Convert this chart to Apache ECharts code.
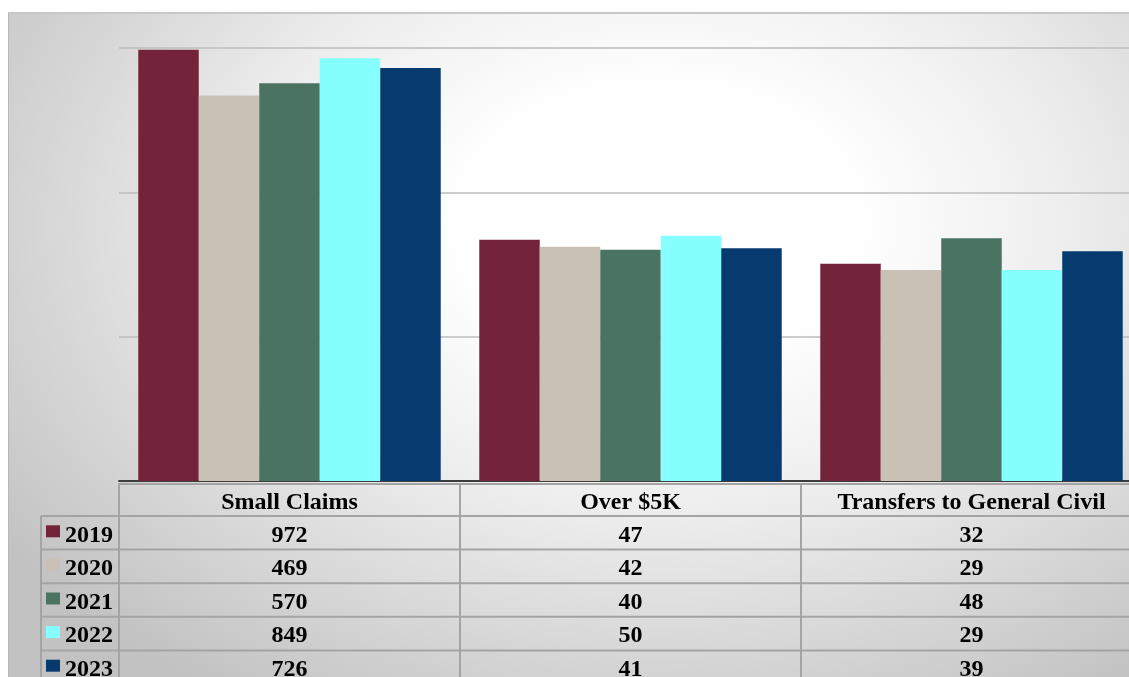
<!DOCTYPE html>
<html>
<head>
<meta charset="utf-8">
<script src="https://cdn.jsdelivr.net/npm/echarts@6/dist/echarts.min.js"></script>
<style>
  html, body { margin: 0; padding: 0; background: #ffffff; overflow: hidden; width: 1129px; height: 677px; }
  #panel {
    position: absolute; left: 8px; top: 12px; width: 1121px; height: 665px;
    border-left: 1px solid #b8b8b8; border-top: 2px solid #c8c8c8; box-sizing: border-box;
    background: radial-gradient(ellipse 800px 560px at 650px 210px, #ffffff 0%, #ffffff 24%, #ededed 52%, #c2c2c2 100%);
  }
  #chart { position: absolute; left: 0; top: 0; width: 1160px; height: 677px; }
</style>
</head>
<body>
<div id="panel"></div>
<div id="chart"></div>
<script>
const categories = ['Small Claims', 'Over $5K', 'Transfers to General Civil'];
const years = ['2019', '2020', '2021', '2022', '2023'];
const v2019 = [972, 47, 32];
const v2020 = [469, 42, 29];
const v2021 = [570, 40, 48];
const v2022 = [849, 50, 29];
const v2023 = [726, 41, 39];
const seriesValues = [v2019, v2020, v2021, v2022, v2023];
const colors = ['#73243A', '#C9C0B6', '#4A7362', '#86FFFF', '#073A6E'];

const chart = echarts.init(document.getElementById('chart'), null, { renderer: 'canvas' });

const GRID_LEFT = 119, GRID_TOP = 48, GRID_W = 1023, GRID_H = 433;

chart.setOption({
  backgroundColor: 'transparent',
  animation: false,
  grid: { left: GRID_LEFT, top: GRID_TOP, width: GRID_W, height: GRID_H, containLabel: false },
  xAxis: {
    type: 'category', data: categories,
    axisLabel: { show: false }, axisTick: { show: false },
    axisLine: { show: true, lineStyle: { color: '#3c3c3c', width: 2 } },
    splitLine: { show: false }
  },
  yAxis: {
    type: 'log', logBase: 10, min: 1, max: 1000,
    axisLabel: { show: false }, axisTick: { show: false }, axisLine: { show: false },
    splitLine: { show: true, lineStyle: { color: '#bdbdbd', width: 1.5 } }
  },
  series: years.map((y, i) => ({
    name: y, type: 'bar', data: seriesValues[i],
    barGap: '0%', barCategoryGap: '11.3%',
    itemStyle: { color: colors[i] }
  }))
});

// Build data table beneath plot using the axis' own pixel positions
const centers = categories.map(c => chart.convertToPixel({ xAxisIndex: 0 }, c));
const step = centers.length > 1 ? centers[1] - centers[0] : GRID_W;
const bounds = [centers[0] - step / 2].concat(centers.map(c => c + step / 2));
const baseY = chart.convertToPixel({ yAxisIndex: 0 }, 1);
const headTop = baseY + 2;
const headBottom = 516;
const rowH = 33.6;
const keyLeft = 41;
const lineColor = '#a4a4a4';
const bottom = 700;
const FONT = '"Liberation Serif", "Times New Roman", serif';

const g = [];
function line(x1, y1, x2, y2) {
  g.push({ type: 'line', shape: { x1, y1, x2, y2 }, style: { stroke: lineColor, lineWidth: 2 }, silent: true });
}
bounds.forEach(x => line(x, headTop, x, bottom));
line(keyLeft, headBottom, keyLeft, bottom);
line(bounds[0], headTop + 1, bounds[bounds.length - 1], headTop + 1);
for (let r = 0; r <= years.length; r++) {
  const y = headBottom + r * rowH;
  line(keyLeft, y, bounds[bounds.length - 1], y);
}
categories.forEach((c, j) => {
  g.push({ type: 'text', x: centers[j], y: (headTop + headBottom) / 2 + 3,
    style: { text: c, font: 'bold 24px ' + FONT, fill: '#000', align: 'center', verticalAlign: 'middle' }, silent: true });
});
years.forEach((yr, i) => {
  const cy = headBottom + i * rowH + rowH / 2 + 2.5;
  g.push({ type: 'rect', shape: { x: 46, y: cy - 10, width: 14, height: 12 }, style: { fill: colors[i] }, silent: true });
  g.push({ type: 'text', x: 65, y: cy,
    style: { text: yr, font: 'bold 24px ' + FONT, fill: '#000', align: 'left', verticalAlign: 'middle' }, silent: true });
  seriesValues[i].forEach((v, j) => {
    g.push({ type: 'text', x: centers[j], y: cy,
      style: { text: String(v), font: 'bold 24px ' + FONT, fill: '#000', align: 'center', verticalAlign: 'middle' }, silent: true });
  });
});

chart.setOption({ graphic: { elements: g } });
</script>
</body>
</html>
